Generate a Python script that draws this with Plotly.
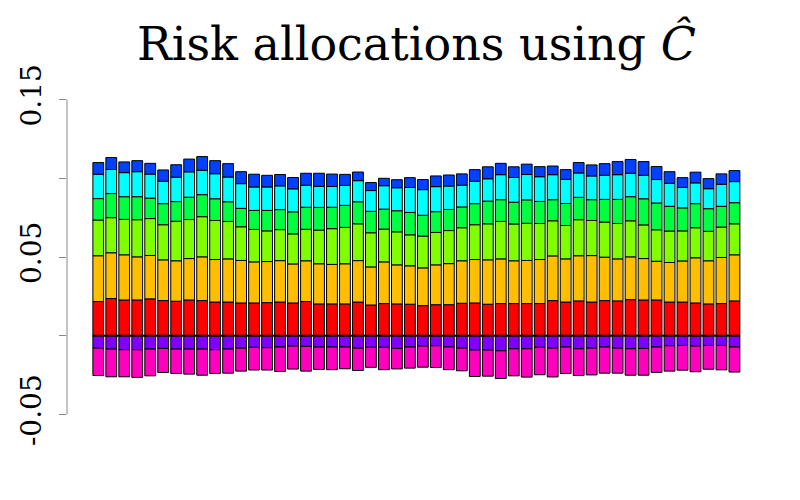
import plotly.graph_objects as go

bars = list(range(50))

red = [0.0217, 0.0236, 0.0227, 0.0227, 0.0234, 0.0223, 0.0219, 0.0227, 0.0223, 0.0214,
       0.0214, 0.0208, 0.0208, 0.0210, 0.0214, 0.0208, 0.0217, 0.0202, 0.0202, 0.0202,
       0.0214, 0.0195, 0.0204, 0.0202, 0.0200, 0.0191, 0.0197, 0.0197, 0.0206, 0.0208,
       0.0200, 0.0204, 0.0204, 0.0204, 0.0204, 0.0223, 0.0214, 0.0221, 0.0214, 0.0223,
       0.0221, 0.0229, 0.0227, 0.0227, 0.0214, 0.0214, 0.0208, 0.0202, 0.0204, 0.0221]
orange = [0.0291, 0.0291, 0.0287, 0.0274, 0.0276, 0.0259, 0.0257, 0.0263, 0.0278, 0.0270,
          0.0274, 0.0270, 0.0261, 0.0261, 0.0263, 0.0248, 0.0259, 0.0255, 0.0251, 0.0255,
          0.0263, 0.0242, 0.0265, 0.0248, 0.0244, 0.0240, 0.0253, 0.0261, 0.0270, 0.0276,
          0.0282, 0.0284, 0.0272, 0.0274, 0.0280, 0.0284, 0.0274, 0.0287, 0.0295, 0.0276,
          0.0267, 0.0272, 0.0263, 0.0246, 0.0251, 0.0261, 0.0287, 0.0274, 0.0293, 0.0293]
lime = [0.0227, 0.0223, 0.0225, 0.0236, 0.0234, 0.0223, 0.0251, 0.0248, 0.0255, 0.0248,
        0.0238, 0.0214, 0.0206, 0.0195, 0.0197, 0.0191, 0.0200, 0.0214, 0.0227, 0.0231,
        0.0234, 0.0217, 0.0208, 0.0210, 0.0197, 0.0202, 0.0206, 0.0210, 0.0210, 0.0221,
        0.0229, 0.0238, 0.0234, 0.0236, 0.0229, 0.0223, 0.0212, 0.0229, 0.0223, 0.0223,
        0.0225, 0.0229, 0.0214, 0.0200, 0.0200, 0.0191, 0.0191, 0.0187, 0.0193, 0.0197]
green = [0.0136, 0.0153, 0.0144, 0.0146, 0.0130, 0.0134, 0.0125, 0.0142, 0.0140, 0.0138,
         0.0125, 0.0117, 0.0121, 0.0130, 0.0127, 0.0140, 0.0140, 0.0144, 0.0136, 0.0140,
         0.0140, 0.0136, 0.0127, 0.0134, 0.0142, 0.0132, 0.0132, 0.0134, 0.0132, 0.0134,
         0.0144, 0.0138, 0.0138, 0.0149, 0.0140, 0.0134, 0.0140, 0.0142, 0.0132, 0.0144,
         0.0153, 0.0153, 0.0166, 0.0170, 0.0157, 0.0146, 0.0153, 0.0144, 0.0132, 0.0134]
cyan = [0.0155, 0.0153, 0.0153, 0.0159, 0.0153, 0.0142, 0.0155, 0.0161, 0.0155, 0.0159,
        0.0157, 0.0157, 0.0149, 0.0149, 0.0151, 0.0146, 0.0140, 0.0134, 0.0132, 0.0127,
        0.0134, 0.0132, 0.0149, 0.0146, 0.0159, 0.0163, 0.0159, 0.0149, 0.0138, 0.0142,
        0.0142, 0.0159, 0.0157, 0.0161, 0.0157, 0.0159, 0.0153, 0.0155, 0.0151, 0.0153,
        0.0157, 0.0149, 0.0149, 0.0149, 0.0146, 0.0130, 0.0132, 0.0127, 0.0140, 0.0134]
blue = [0.0074, 0.0076, 0.0068, 0.0070, 0.0068, 0.0072, 0.0079, 0.0081, 0.0087, 0.0083,
        0.0085, 0.0076, 0.0081, 0.0074, 0.0072, 0.0072, 0.0076, 0.0083, 0.0079, 0.0070,
        0.0055, 0.0051, 0.0047, 0.0051, 0.0062, 0.0064, 0.0068, 0.0070, 0.0072, 0.0074,
        0.0076, 0.0072, 0.0068, 0.0066, 0.0064, 0.0055, 0.0062, 0.0066, 0.0070, 0.0074,
        0.0083, 0.0087, 0.0087, 0.0083, 0.0074, 0.0062, 0.0068, 0.0064, 0.0066, 0.0070]
purple = [-0.0079, -0.0085, -0.0089, -0.0089, -0.0085, -0.0081, -0.0085, -0.0085, -0.0085, -0.0089,
          -0.0085, -0.0079, -0.0074, -0.0076, -0.0072, -0.0066, -0.0068, -0.0072, -0.0072, -0.0072,
          -0.0079, -0.0074, -0.0074, -0.0081, -0.0072, -0.0066, -0.0064, -0.0072, -0.0079, -0.0091,
          -0.0091, -0.0096, -0.0083, -0.0083, -0.0074, -0.0079, -0.0072, -0.0083, -0.0079, -0.0072,
          -0.0079, -0.0083, -0.0081, -0.0072, -0.0064, -0.0062, -0.0066, -0.0062, -0.0062, -0.0072]
magenta = [-0.0174, -0.0176, -0.0172, -0.0176, -0.0170, -0.0153, -0.0155, -0.0159, -0.0166, -0.0151,
           -0.0153, -0.0146, -0.0144, -0.0142, -0.0155, -0.0146, -0.0157, -0.0142, -0.0144, -0.0138,
           -0.0142, -0.0127, -0.0142, -0.0130, -0.0134, -0.0134, -0.0138, -0.0144, -0.0144, -0.0168,
           -0.0166, -0.0176, -0.0172, -0.0180, -0.0174, -0.0183, -0.0168, -0.0170, -0.0170, -0.0166,
           -0.0159, -0.0168, -0.0170, -0.0161, -0.0161, -0.0157, -0.0163, -0.0151, -0.0155, -0.0159]

series = [
    ("s1", red, "#FF0000"),
    ("s2", orange, "#FFBF00"),
    ("s3", lime, "#80FF00"),
    ("s4", green, "#00FF40"),
    ("s5", cyan, "#00FFFF"),
    ("s6", blue, "#0040FF"),
    ("s7", purple, "#8000FF"),
    ("s8", magenta, "#FF00BF"),
]

y_ticks = [-0.05, 0.0, 0.05, 0.10, 0.15]
y_tick_text = ["-0.05", "", "0.05", "", "0.15"]

fig = go.Figure()
for name, vals, col in series:
    fig.add_trace(go.Bar(x=bars, y=vals, name=name, marker_color=col,
                         marker_line_color="black", marker_line_width=1))

# baseline across the bars
fig.add_shape(type="line", xref="x", yref="y", x0=-0.42, x1=49.42, y0=0, y1=0,
              line=dict(color="black", width=2))
# y axis line spanning only the tick range (as R draws it)
fig.add_shape(type="line", xref="paper", yref="y", x0=0, x1=0,
              y0=y_ticks[0], y1=y_ticks[-1], line=dict(color="#888", width=1))

serif = "DejaVu Serif"
fig.update_layout(
    width=800, height=500,
    barmode="relative", bargap=0.1667,
    showlegend=False,
    plot_bgcolor="white", paper_bgcolor="white",
    margin=dict(l=67, r=34, t=87, b=73, autoexpand=False),
    title=dict(text="Risk allocations using <i>Ĉ</i>", x=0.5, xanchor="center", xref="paper",
               y=0.881, yanchor="bottom", yref="container",
               font=dict(family=serif, size=46, color="black")),
    xaxis=dict(range=[-2.41, 51.43], visible=False, showgrid=False, zeroline=False),
    yaxis=dict(range=[-0.058, 0.158], tickvals=y_ticks, ticktext=y_tick_text,
               showgrid=False, zeroline=False, showline=False,
               ticks="outside", ticklen=7, tickcolor="#888", tickwidth=1,
               tickangle=-90, ticklabelstandoff=7, automargin=False,
               tickfont=dict(family=serif, size=28, color="black")),
)

fig.write_html("out.html", config={"displayModeBar": False},
               post_script="document.body.style.margin='0';")
